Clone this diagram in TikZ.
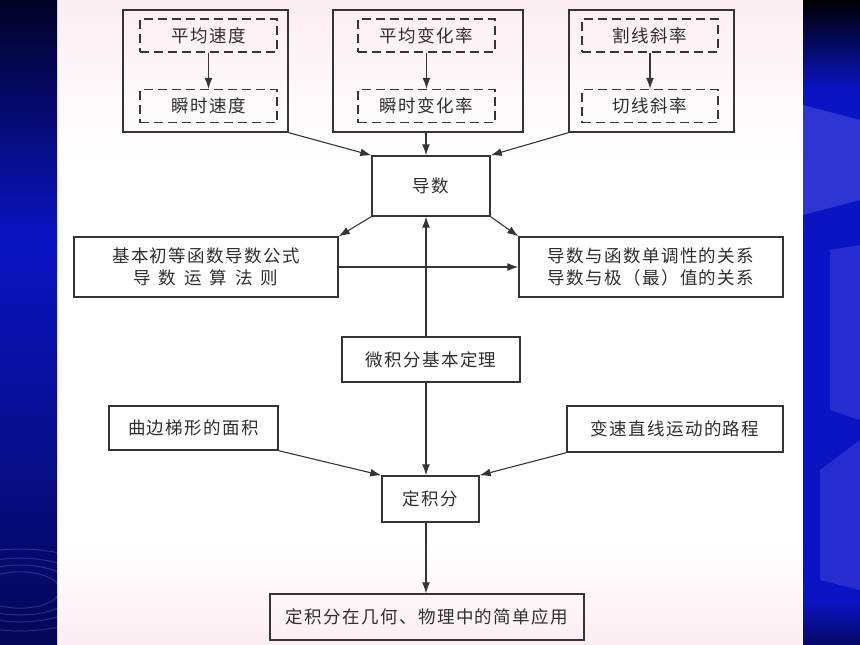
\documentclass[tikz,border=0pt]{standalone}
\usepackage{fontspec}
\newfontfamily\cjk[LetterSpace=8]{Noto Sans CJK SC}
\usetikzlibrary{arrows.meta}
\definecolor{edge}{HTML}{353535}
\definecolor{ink}{HTML}{2E2E2E}
\definecolor{deepblue}{HTML}{0A14C4}
\definecolor{navy}{HTML}{020226}
\definecolor{rose}{HTML}{FCEEF2}
\tikzstyle{line} = [draw=edge, line width=1.1pt, -{Latex[length=11pt,width=8pt]}]
\newcommand{\wide}{\hspace{8pt}}

\begin{document}
\begin{tikzpicture}
  [x=1pt,y=-1pt,
   every node/.style={inner sep=0pt,text=ink,font=\cjk\fontsize{17.5}{22}\selectfont},
   box/.style={draw=edge,line width=1.4pt,rectangle,align=center},
   dbox/.style={box,dash pattern=on 9pt off 5pt,minimum width=137,minimum height=33}]
  \useasboundingbox (0,0) rectangle (860,645);

  % slide background
  \shade[top color=rose,bottom color=white] (57,0) rectangle (803,160);
  \fill[white] (57,160) rectangle (803,540);
  \shade[top color=white,bottom color=rose] (57,540) rectangle (803,645);
  \shade[top color=navy,bottom color=deepblue] (0,0) rectangle (57,240);
  \shade[top color=deepblue,bottom color=navy!70!deepblue] (0,240) rectangle (57,645);
  \begin{scope}
    \clip (0,0) rectangle (57,645);
    \foreach \r in {40,55,70,90}
      \draw[blue!40!white,opacity=.25,line width=1pt] (20,590) ellipse ({\r} and {\r/2.2});
  \end{scope}
  \shade[top color=black,bottom color=deepblue] (803,0) rectangle (860,90);
  \fill[deepblue] (803,90) rectangle (860,600);
  \shade[top color=deepblue,bottom color=navy!60!deepblue] (803,600) rectangle (860,645);
  \fill[blue!40!white,opacity=.25] (803,105) -- (860,120) -- (860,200) -- (803,215) -- cycle;
  \fill[blue!40!white,opacity=.2] (830,250) -- (860,245) -- (860,420) -- (830,410) -- cycle;
  \fill[blue!40!white,opacity=.2] (820,470) -- (860,440) -- (860,590) -- (820,580) -- cycle;

  \coordinate (axis) at (426,0);

  % top frames
  \node[box, minimum width=165, minimum height=122] (speed) at (205.5,71) {};
  \node[box, minimum width=190, minimum height=122] (rate) at (428,71) {};
  \node[box, minimum width=165, minimum height=122] (slope) at (651.5,71) {};
  \node[dbox] (v_avg) at (208.5,35.5) {平均速度};
  \node[dbox] (v_ins) at (208.5,106) {瞬时速度};
  \node[dbox] (r_avg) at (426.5,35.5) {平均变化率};
  \node[dbox] (r_ins) at (426.5,106) {瞬时变化率};
  \node[dbox, minimum width=136] (k_sec) at (650,35.5) {割线斜率};
  \node[dbox, minimum width=136] (k_tan) at (650,106) {切线斜率};

  \node[box, minimum width=118, minimum height=60] (deriv) at (431,186) {导数};
  \node[box, minimum width=264, minimum height=60] (rules) at (206,267)
    {基本初等函数导数公式\\导\wide 数\wide 运\wide 算\wide 法\wide 则};
  \node[box, minimum width=264, minimum height=60] (mono) at (651,267)
    {导数与函数单调性的关系\\导数与极（最）值的关系};
  \node[box, minimum width=178, minimum height=45] (ftc) at (431,359.5) {微积分基本定理};
  \node[box, minimum width=169, minimum height=44] (area) at (193.5,428) {曲边梯形的面积};
  \node[box, minimum width=216, minimum height=46] (dist) at (675,429) {变速直线运动的路程};
  \node[box, minimum width=97, minimum height=46] (integ) at (430.5,499) {定积分};
  \node[box, minimum width=314, minimum height=46] (app) at (427,617)
    {定积分在几何、物理中的简单应用};

  \path [line] (v_avg) -- (v_ins);
  \path [line] (r_avg) -- (r_ins);
  \path [line] (k_sec) -- (k_tan);
  \path [line] (speed.south east) -- (deriv.north west);
  \path [line] (rate.south -| axis) -- (deriv.north -| axis);
  \path [line] (slope.south west) -- (deriv.north east);

  \path [line] (deriv.south west) -- (rules.north east);
  \path [line] (deriv.south east) -- (mono.north west);
  \path [line] (rules.east) -- (mono.west);
  \path [line] (ftc.north -| axis) -- (deriv.south -| axis);

  \path [line] (ftc.south -| axis) -- (integ.north -| axis);
  \path [line] (area.south east) -- (integ.north west);
  \path [line] (dist.south west) -- (integ.north east);
  \path [line] (integ.south -| axis) -- (app.north -| axis);

\end{tikzpicture}
\end{document}
